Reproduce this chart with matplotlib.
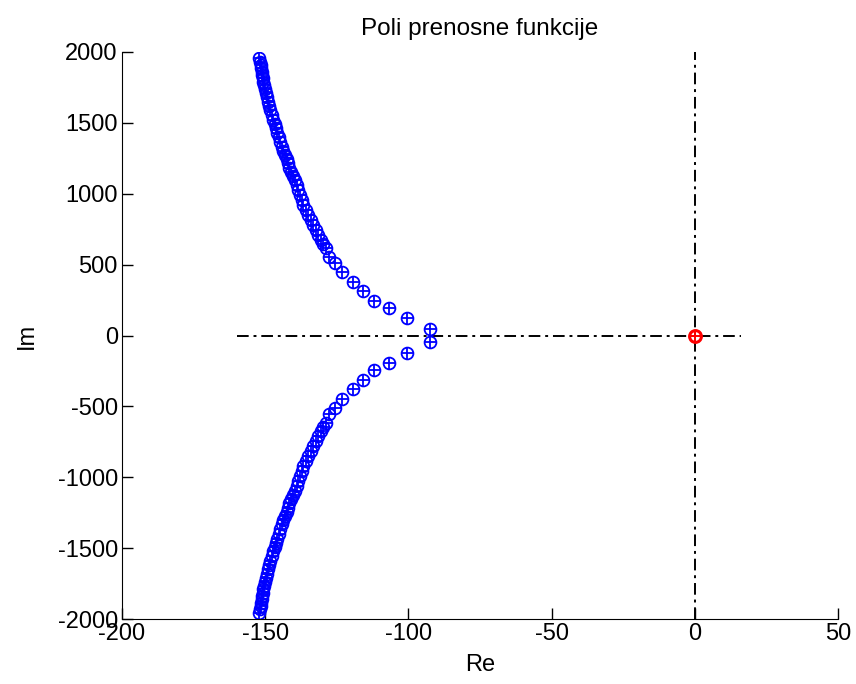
import matplotlib.pyplot as plt

# poles, upper half (the lower half are the conjugates)
re_up = [-152.1, -151.8, -151.6, -151.4, -151.2, -151.0, -150.9, -150.7, -150.4,
         -150.1, -149.8, -149.5, -149.0, -148.6, -148.2, -147.7, -147.2, -146.6,
         -146.2, -145.8, -145.3, -144.8, -144.2, -143.7, -143.1, -142.5, -142.0,
         -141.6, -140.9, -140.2, -139.6, -139.0, -138.4, -137.8, -137.2, -136.7,
         -135.8, -134.9, -134.0, -133.2, -132.3, -131.5, -130.6, -129.7, -128.7,
         -127.6, -125.6, -123.3, -119.4, -116.0, -112.0, -106.7, -100.4, -92.5]
im_up = [1956, 1932, 1908, 1884, 1861, 1838, 1814, 1790, 1767, 1738, 1709, 1679,
         1649, 1620, 1591, 1555, 1520, 1491, 1462, 1432, 1402, 1367, 1332, 1302,
         1273, 1244, 1215, 1185, 1156, 1126, 1097, 1061, 1026, 991, 956, 920,
         885, 850, 815, 780, 744, 709, 674, 644, 615, 556, 509, 450, 380, 316,
         245, 192, 121, 45]
re_im = re_up + re_up
im_all = im_up + [-v for v in im_up]

zero_re = [0]
zero_im = [0]

plt.rcParams['font.family'] = ['Liberation Sans', 'DejaVu Sans']
plt.rcParams['font.size'] = 17
plt.rcParams['axes.unicode_minus'] = False

fig = plt.figure(figsize=(8.56, 6.84), dpi=100)
ax = fig.add_axes([0.1425, 0.095, 0.8365, 0.829])

dash = (0, (6, 2.5, 1.5, 2.5))
ax.plot([-160, 16], [0, 0], color='black', lw=1.4, linestyle=dash)
ax.plot([0, 0], [-2000, 2000], color='black', lw=1.4, linestyle=dash)

ax.plot(re_im, im_all, 'o', mfc='none', mec='blue', ms=8.5, mew=1.3)
ax.plot(re_im, im_all, '+', color='blue', ms=8.5, mew=1.3)
ax.plot(zero_re, zero_im, 'o', mfc='none', mec='red', ms=8.5, mew=2.2)
ax.plot(zero_re, zero_im, '+', color='red', ms=8.5, mew=1.4)

ax.set_xlim(-200, 50)
ax.set_ylim(-2000, 2000)
ax.set_xticks([-200, -150, -100, -50, 0, 50])
ax.set_yticks(range(-2000, 2001, 500))
ax.spines['top'].set_visible(False)
ax.spines['right'].set_visible(False)
ax.tick_params(direction='in', length=8, width=1, pad=3)
ax.set_xlabel('Re', labelpad=6)
ax.set_ylabel('Im', labelpad=14)
ax.set_title('Poli prenosne funkcije', fontsize=17.5, pad=12)
fig.savefig('out.png')
